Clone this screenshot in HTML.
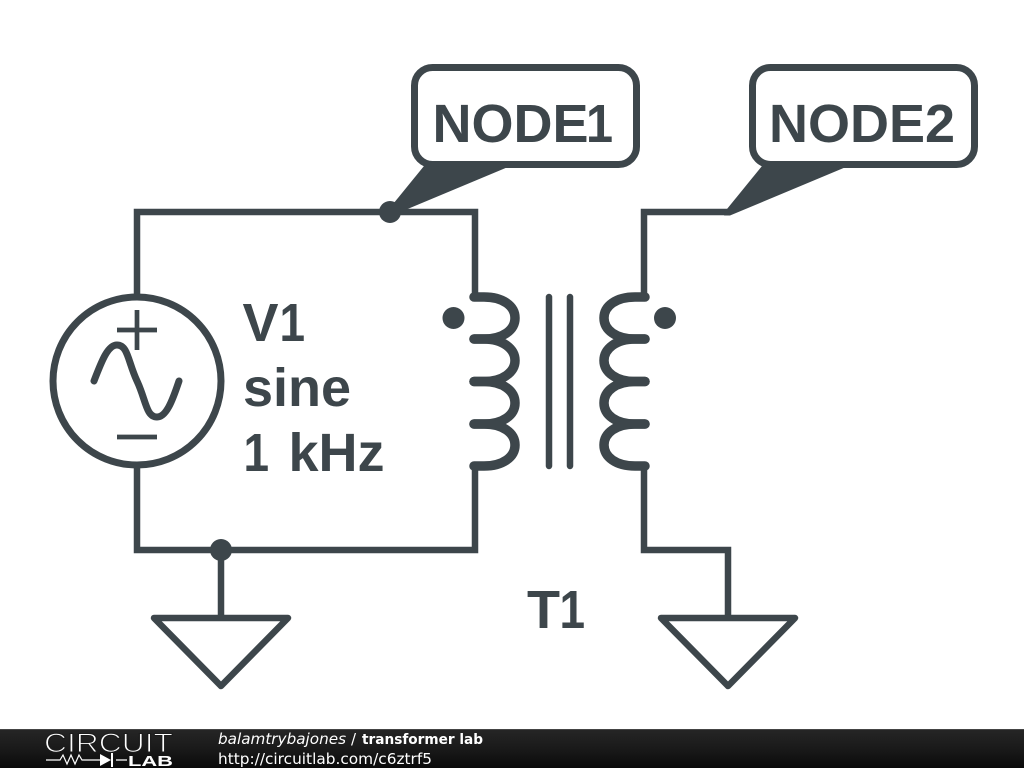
<!DOCTYPE html>
<html>
<head>
<meta charset="utf-8">
<style>
html,body{margin:0;padding:0;background:#fff;width:1024px;height:768px;overflow:hidden}
svg{display:block}
</style>
</head>
<body>
<svg width="1024" height="768" viewBox="0 0 1024 768" xmlns="http://www.w3.org/2000/svg">
<defs>
<linearGradient id="bar" x1="0" y1="0" x2="0" y2="1">
<stop offset="0" stop-color="#262626"/>
<stop offset="0.5" stop-color="#1a1a1a"/>
<stop offset="1" stop-color="#0a0a0a"/>
</linearGradient>
</defs>
<rect width="1024" height="768" fill="#fff"/>
<g fill="none" stroke="#3d464b" stroke-width="6.5" stroke-linejoin="miter">
  <!-- wires -->
  <path d="M137,296 V212 H475 V297"/>
  <path d="M137,466 V550 H475 V466"/>
  <path d="M221,550 V618"/>
  <path d="M644,297 V212 H728"/>
  <path d="M644,466 V550 H728 V618"/>
  <!-- source -->
  <circle cx="137" cy="381" r="84" stroke-width="7"/>
  <path d="M117,330 H157 M137,310 V350 M117,437 H157" stroke-width="4.700"/>
  <path d="M94,381 C102,360 108,345 117,345 C128,345 128,362 137,381 C146,400 146,417 157,417 C166,417 172,402 179,381" stroke-width="7" stroke-linecap="round"/>
  <!-- coils -->
  <g stroke-width="9.5" stroke-linecap="round">
    <path d="M474,297 H484 C503,297 515,306 515,318 C515,330 503,339 484,339 H474"/>
    <path d="M474,339 H484 C503,339 515,349 515,360.500 C515,372 503,381.500 484,381.500 H474"/>
    <path d="M474,381.500 H484 C503,381.500 515,391 515,403 C515,415 503,424 484,424 H474"/>
    <path d="M474,424 H484 C503,424 515,433 515,445 C515,457 503,466 484,466 H474"/>
    <path d="M645,297 H635 C616,297 604,306 604,318 C604,330 616,339 635,339 H645"/>
    <path d="M645,339 H635 C616,339 604,349 604,360.500 C604,372 616,381.500 635,381.500 H645"/>
    <path d="M645,381.500 H635 C616,381.500 604,391 604,403 C604,415 616,424 635,424 H645"/>
    <path d="M645,424 H635 C616,424 604,433 604,445 C604,457 616,466 635,466 H645"/>
  </g>
  <path d="M549,297 V466 M570,297 V466" stroke-width="6.500" stroke-linecap="round"/>
  <!-- grounds -->
  <path d="M154,618 H288 L221,686 Z" stroke-linejoin="round"/>
  <path d="M661,618 H795 L728,686 Z" stroke-linejoin="round"/>
  <!-- labels -->
  <rect x="414.500" y="67.500" width="222" height="97" rx="18" stroke-width="7"/>
  <rect x="752.500" y="67.500" width="222" height="97" rx="18" stroke-width="7"/>
</g>
<g fill="#3d464b">
  <path d="M424,166 L508,167 L392,215.500 L386,215.500 L389,209 Z"/>
  <path d="M762,166 L846,167 L730,215.500 L724,215.500 L727,209 Z"/>
  <circle cx="390" cy="212" r="11"/>
  <circle cx="221" cy="550" r="11"/>
  <circle cx="453.500" cy="318" r="11"/>
  <circle cx="665" cy="318" r="11"/>
</g>
<g fill="#3d464b" font-family="'Liberation Sans',sans-serif" font-weight="700" font-size="54">
  <text x="432.500" y="142">NODE</text>
  <text transform="translate(586,142) scale(.9,1)">1</text>
  <text x="769" y="142">NODE2</text>
  <text x="242.500" y="341">V</text>
  <text transform="translate(279.500,341) scale(.85,1)">1</text>
  <text x="243" y="406">sine</text>
  <text transform="translate(243.500,471) scale(.85,1)">1</text>
  <text x="288.500" y="471">kHz</text>
  <text x="527" y="628">T</text>
  <text transform="translate(559.500,628) scale(.85,1)">1</text>
</g>
<!-- footer -->
<rect x="0" y="729" width="1024" height="39" fill="url(#bar)"/>
<rect x="0" y="729" width="1024" height="1" fill="#444"/>
<g fill="#fff" font-family="'DejaVu Sans',sans-serif">
  <text x="218" y="744" font-size="15" font-style="italic" textLength="128" lengthAdjust="spacingAndGlyphs">balamtrybajones</text>
  <text x="351" y="744" font-size="15">/</text>
  <text x="362" y="744" font-size="14" font-weight="700" textLength="121" lengthAdjust="spacingAndGlyphs">transformer lab</text>
  <text x="218" y="764" font-size="15" textLength="214" lengthAdjust="spacingAndGlyphs">http://circuitlab.com/c6ztrf5</text>
</g>
<text x="44" y="752" font-family="'Liberation Sans',sans-serif" font-size="27" fill="#fff" stroke="#1c1c1c" stroke-width="1.100" textLength="129" lengthAdjust="spacingAndGlyphs">CIRCUIT</text>
<path d="M46,760 H60 L63,755 L67,764 L71,755 L75,764 L79,755 L82,760 H100 M116,760 H127" fill="none" stroke="#fff" stroke-width="1.200"/>
<path d="M100,754 L111,760 L100,766 Z" fill="#fff"/>
<path d="M112,753 V767" stroke="#fff" stroke-width="2"/>
<text x="128" y="766" font-family="'Liberation Sans',sans-serif" font-weight="700" font-size="15" fill="#fff" textLength="45" lengthAdjust="spacingAndGlyphs">LAB</text>
</svg>
</body>
</html>
